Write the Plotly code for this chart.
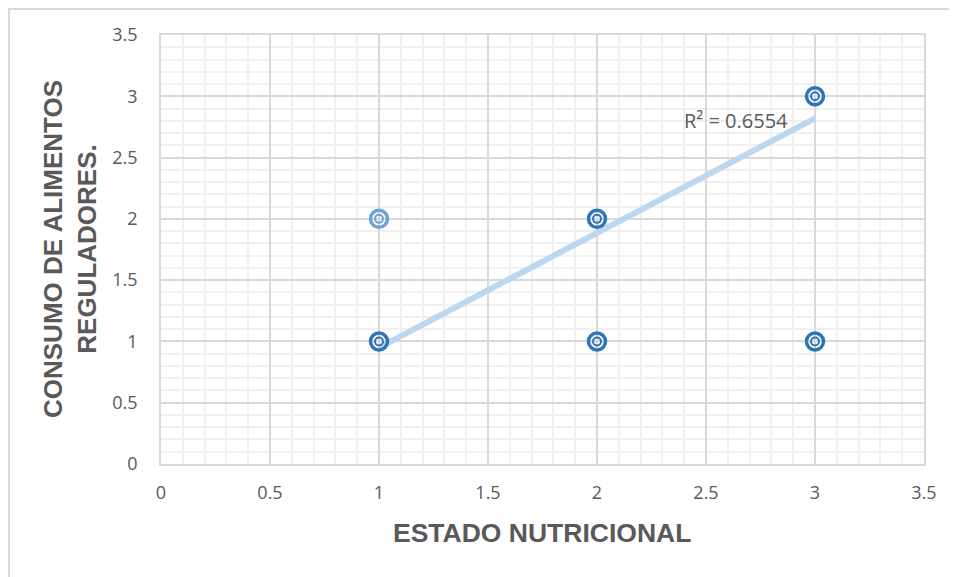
import plotly.graph_objects as go

# Data
estado_nutricional = [1, 1, 2, 2, 3, 3]
consumo_reguladores = [1, 2, 1, 2, 1, 3]
trend_x = [1, 3]
trend_y = [0.95, 2.82]
r2_label = "R² = 0.6554"
x_title = "ESTADO NUTRICIONAL"
y_title = "CONSUMO DE ALIMENTOS<br>REGULADORES."

# styles
DARK = "#2e75b6"
LIGHT = "#6fa2d6"
point_colors = [DARK, LIGHT, DARK, DARK, DARK, DARK]
TXT = "#595959"
TICKFONT = "Open Sans, Liberation Sans, sans-serif"
TITLEFONT = "Liberation Sans, Arial, sans-serif"

OFF = 8  # page body margin offset
W, H = 957, 577
# target plot area in screen pixels: x 161..924, y 35..464
L = 161 - OFF
T = 35 - OFF
R = (OFF + W) - 924
B = (OFF + H) - 464
pw = W - L - R
ph = H - T - B
def px(xs): return (xs - OFF - L) / pw
def py(ys): return (H - B - (ys - OFF)) / ph

fig = go.Figure()

fig.add_trace(go.Scatter(
    x=trend_x, y=trend_y, mode="lines",
    line=dict(color="#bdd7ee", width=6), hoverinfo="skip", showlegend=False))

fig.add_trace(go.Scatter(
    x=estado_nutricional, y=consumo_reguladores, mode="markers",
    marker=dict(symbol="circle-open", size=17, color=point_colors,
                line=dict(width=3.5, color=point_colors)),
    showlegend=False))
fig.add_trace(go.Scatter(
    x=estado_nutricional, y=consumo_reguladores, mode="markers",
    marker=dict(symbol="circle-open", size=8, color=point_colors,
                line=dict(width=2, color=point_colors)),
    showlegend=False, hoverinfo="skip"))

fig.add_annotation(x=2.885, y=2.8, xref="x", yref="y", text=r2_label,
                   showarrow=False, xanchor="right", yanchor="middle",
                   font=dict(family=TICKFONT, size=20, color=TXT))

axis_common = dict(
    range=[0, 3.5], dtick=0.5, tick0=0, automargin=False,
    showgrid=True, gridcolor="#d9d9d9", gridwidth=1.5,
    zeroline=False, showline=True, linecolor="#d9d9d9", linewidth=1.5, mirror=True,
    ticks="", tickfont=dict(family=TICKFONT, size=18, color=TXT),
    minor=dict(dtick=0.1, showgrid=True, gridcolor="#f0f0f0", gridwidth=1.5),
)

fig.update_xaxes(**axis_common, ticklabelstandoff=12)
fig.update_yaxes(**axis_common, ticklabelstandoff=18)

fig.add_annotation(x=px(542), y=py(533), xref="paper", yref="paper", text=x_title,
                   showarrow=False, xanchor="center", yanchor="middle",
                   font=dict(family=TITLEFONT, size=26.5, color=TXT, weight="bold"))
fig.add_annotation(x=px(70), y=py(249), xref="paper", yref="paper", text=y_title,
                   showarrow=False, xanchor="center", yanchor="middle", textangle=-90,
                   font=dict(family=TITLEFONT, size=26, color=TXT, weight="bold"))

# outer chart border (left and top visible)
fig.add_shape(type="line", xref="paper", yref="paper",
              x0=px(9), x1=px(9), y0=py(8), y1=py(600),
              line=dict(color="#d9d9d9", width=2))
fig.add_shape(type="line", xref="paper", yref="paper",
              x0=px(8), x1=px(1000), y0=py(9), y1=py(9),
              line=dict(color="#d9d9d9", width=2))

fig.update_layout(
    width=W, height=H,
    margin=dict(l=L, r=R, t=T, b=B, autoexpand=False),
    paper_bgcolor="white", plot_bgcolor="white",
    showlegend=False,
)

fig.write_html("out.html")
